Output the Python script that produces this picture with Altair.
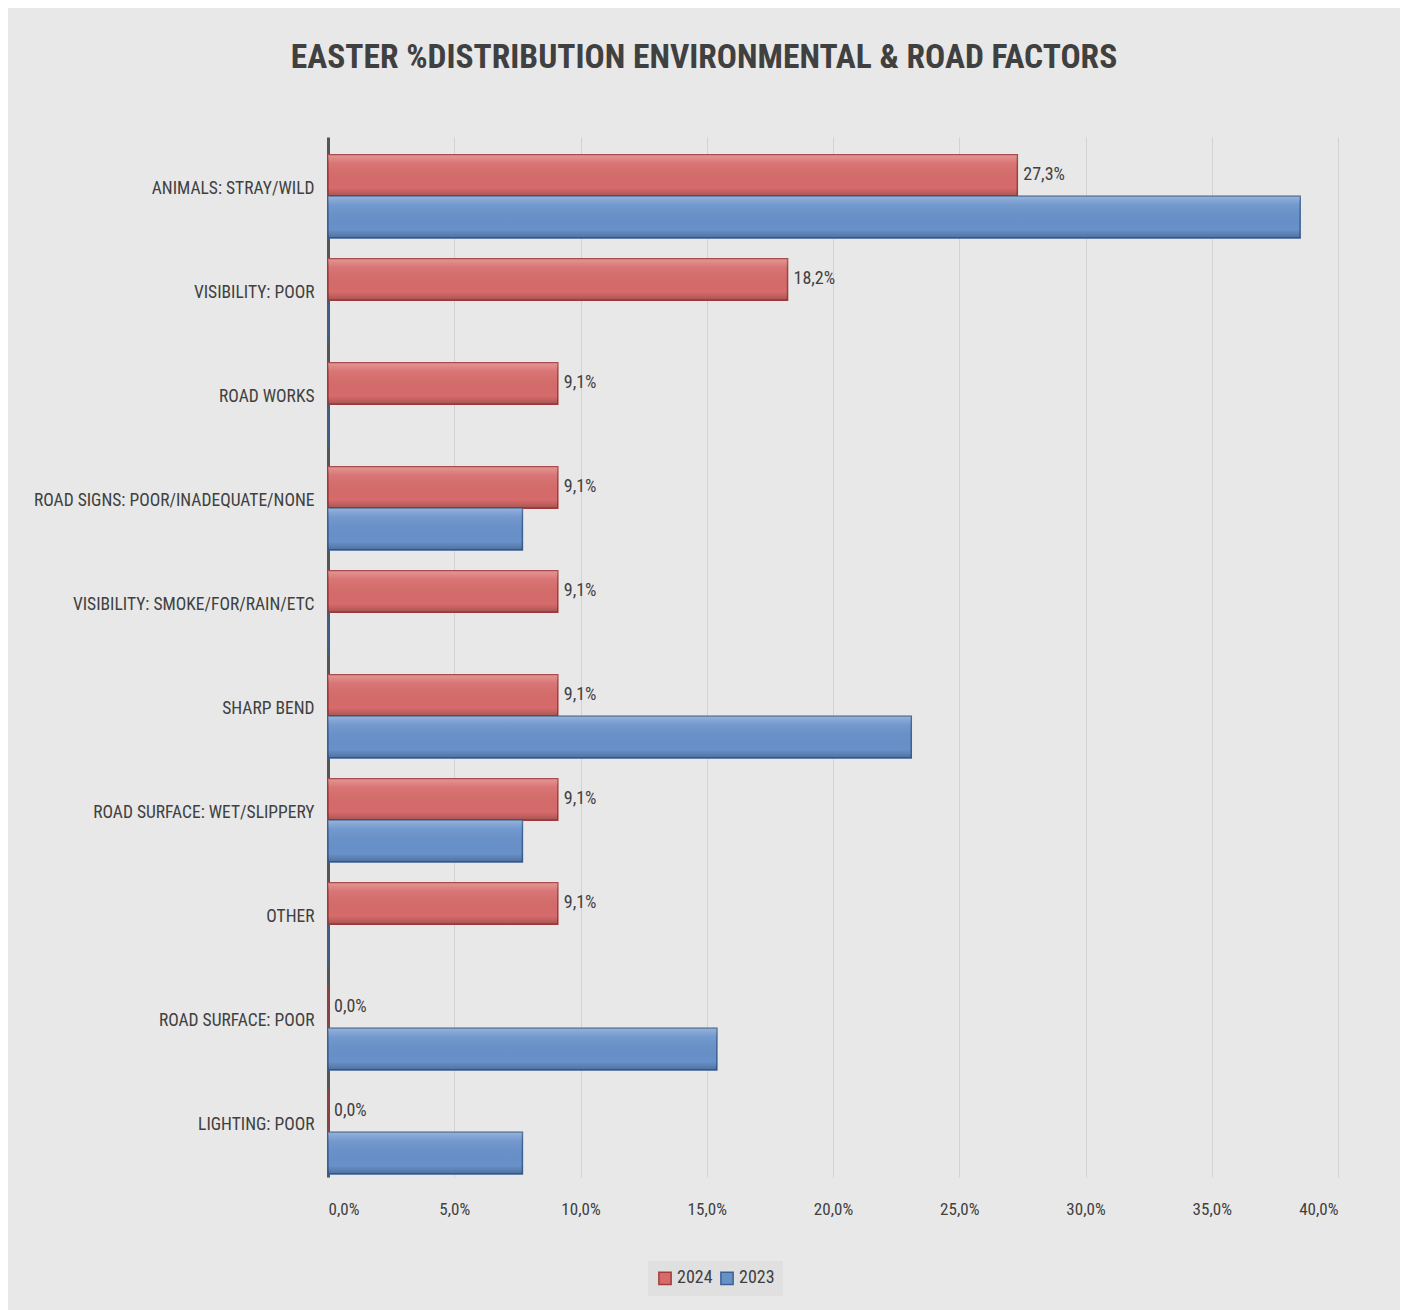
import altair as alt
import pandas as pd

categories = [
    "ANIMALS:  STRAY/WILD",
    "VISIBILITY: POOR",
    "ROAD WORKS",
    "ROAD SIGNS: POOR/INADEQUATE/NONE",
    "VISIBILITY: SMOKE/FOR/RAIN/ETC",
    "SHARP BEND",
    "ROAD SURFACE: WET/SLIPPERY",
    "OTHER",
    "ROAD SURFACE: POOR",
    "LIGHTING: POOR",
]
values_2024 = [27.3, 18.2, 9.1, 9.1, 9.1, 9.1, 9.1, 9.1, 0.0, 0.0]
values_2023 = [38.5, 0.0, 0.0, 7.7, 0.0, 23.1, 7.7, 0.0, 15.4, 7.7]
years = ["2024", "2023"]
x_ticks = [0, 5, 10, 15, 20, 25, 30, 35, 40]

rows = []
for c, v in zip(categories, values_2024):
    rows.append({"category": c, "year": "2024", "value": v,
                 "label": f"{v:.1f}".replace(".", ",") + "%"})
for c, v in zip(categories, values_2023):
    rows.append({"category": c, "year": "2023", "value": v,
                 "label": f"{v:.1f}".replace(".", ",") + "%"})
df = pd.DataFrame(rows)

FONT = "Roboto Condensed, DejaVu Sans Condensed, sans-serif"
TXT = "#404040"

y_enc = alt.Y(
    "category:N", sort=categories,
    scale=alt.Scale(paddingInner=0, paddingOuter=0),
    axis=alt.Axis(title=None, labelFontSize=17.5, labelColor=TXT, labelFont=FONT,
                  ticks=False, labelPadding=14, labelLimit=400,
                  domainColor="#555555", domainWidth=3,
                  minExtent=300, maxExtent=300, grid=False),
)
yoff_enc = alt.YOffset(
    "year:N", sort=years,
    scale=alt.Scale(domain=years, paddingInner=0, paddingOuter=0.25, align=0.85),
)
x_enc = alt.X(
    "value:Q",
    scale=alt.Scale(domain=[0, 40], nice=False),
    axis=alt.Axis(values=x_ticks,
                  labelExpr="replace(format(datum.value,'.1f'),'.',',')+'%'",
                  title=None, domain=False, ticks=False, gridColor="#d2d2d2",
                  labelFontSize=17, labelPadding=24, labelColor=TXT, labelFont=FONT),
)

bars = alt.Chart(df).mark_bar(strokeWidth=1.5).encode(
    y=y_enc, yOffset=yoff_enc, x=x_enc,
    color=alt.Color("year:N", sort=years,
                    scale=alt.Scale(domain=years, range=["#d66b6a", "#6891ca"]),
                    legend=alt.Legend(orient="none", legendX=320, legendY=1124,
                                      direction="horizontal", title=None,
                                      symbolType="square", symbolSize=150,
                                      labelFontSize=18, labelFont=FONT, labelColor=TXT,
                                      fillColor="#e0e0e0", padding=8,
                                      symbolStrokeWidth=1.5, columnPadding=4,
                                      labelOffset=3)),
    stroke=alt.Stroke("year:N", sort=years,
                      scale=alt.Scale(domain=years, range=["#a33d3c", "#3c6294"])),
)

overlay = alt.Chart(df).mark_bar(
    fill=alt.Gradient(
        gradient="linear", x1=0, x2=0, y1=0, y2=1,
        stops=[
            alt.GradientStop(offset=0, color="rgba(255,255,255,0.30)"),
            alt.GradientStop(offset=0.2, color="rgba(255,255,255,0.08)"),
            alt.GradientStop(offset=0.8, color="rgba(0,0,0,0)"),
            alt.GradientStop(offset=1, color="rgba(0,0,0,0.22)"),
        ],
    ),
    strokeWidth=0,
).encode(y=y_enc, yOffset=yoff_enc, x=x_enc)

text = alt.Chart(df).transform_filter(alt.datum.year == "2024").mark_text(
    align="left", baseline="middle", dx=6, fontSize=18, color=TXT, font=FONT
).encode(y=y_enc, yOffset=yoff_enc, x=x_enc, text="label:N")

chart = alt.layer(bars, overlay, text).properties(
    width=1010, height=1040,
    title=alt.Title("EASTER %DISTRIBUTION ENVIRONMENTAL & ROAD FACTORS",
                    fontSize=33.5, font=FONT, fontWeight="bold", color=TXT,
                    anchor="middle", dx=-129, offset=62),
    padding={"left": 20, "top": 32, "right": 62, "bottom": 30},
    background="#e8e8e8",
).configure_view(stroke=None)

chart.save("out.html", embed_options={"renderer": "svg", "actions": False})
